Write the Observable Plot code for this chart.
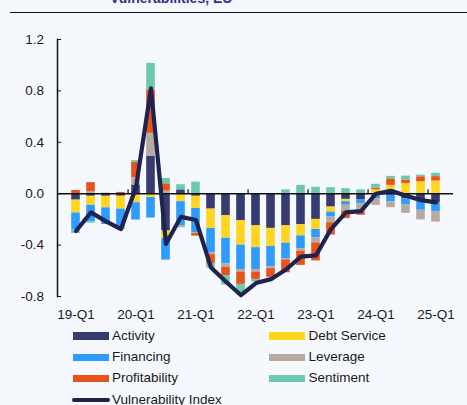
<!DOCTYPE html>
<html><head><meta charset="utf-8">
<script src="https://cdn.jsdelivr.net/npm/d3@7"></script>
<script src="https://cdn.jsdelivr.net/npm/@observablehq/plot@0.6"></script>
<style>
html,body{margin:0;padding:0;background:#F5F9FD;width:467px;height:405px;overflow:hidden;font-family:"Liberation Sans",Arial,sans-serif;}
#wrap{position:relative;width:467px;height:405px;}
#title{position:absolute;left:110px;top:-9px;font-weight:bold;font-size:14px;line-height:14px;color:#2E3192;white-space:nowrap;}
#hr{position:absolute;left:10px;top:11.5px;width:457px;height:1.5px;background:#111;}
#chart{position:absolute;left:0;top:0;}
.sw{position:absolute;width:36px;height:7.5px;}
.lt{position:absolute;font-size:13.5px;line-height:16px;color:#1a1a1a;white-space:nowrap;}
.ln{position:absolute;width:38px;height:4.5px;border-radius:3px;}
</style></head>
<body><div id="wrap">
<div id="title">Vulnerabilities, EU</div>
<div id="hr"></div>
<div id="chart"></div>
<div id="legend"></div>
</div>
<script>
const quarters = ["19-Q1","19-Q2","19-Q3","19-Q4","20-Q1","20-Q2","20-Q3","20-Q4","21-Q1","21-Q2","21-Q3","21-Q4","22-Q1","22-Q2","22-Q3","22-Q4","23-Q1","23-Q2","23-Q3","23-Q4","24-Q1","24-Q2","24-Q3","24-Q4","25-Q1"];
const xTickLabels = ["19-Q1","20-Q1","21-Q1","22-Q1","23-Q1","24-Q1","25-Q1"];
const yTicks = [-0.8,-0.4,0,0.4,0.8,1.2];
const seriesNames = ["Activity","Debt Service","Financing","Leverage","Profitability","Sentiment"];
const seriesColors = ["#363B70","#FFD520","#2F9BFF","#B8A9A1","#E8521B","#6CC9AA"];
const lineName = "Vulnerability Index";
const lineColor = "#1F2350";

const activity     = [-0.05,-0.02,-0.02,-0.02,0.068,0.293,-0.29,0.03,-0.02,-0.12,-0.17,-0.21,-0.25,-0.27,-0.25,-0.24,-0.20,-0.104,-0.044,-0.049,0,0,-0.039,-0.062,-0.07];
const debtService  = [-0.10,-0.07,-0.09,-0.10,-0.07,-0.03,-0.057,-0.062,-0.095,-0.15,-0.177,-0.19,-0.17,-0.14,-0.135,-0.088,-0.078,-0.039,-0.018,0,0.03,0.065,0.08,0.093,0.099];
const financing    = [-0.13,-0.13,-0.13,-0.14,-0.135,-0.16,-0.17,-0.19,-0.19,-0.187,-0.20,-0.19,-0.17,-0.158,-0.12,-0.10,-0.065,-0.039,-0.028,-0.028,-0.039,-0.062,-0.049,-0.067,-0.073];
const leverage     = [-0.005,0.016,0.005,0,0.057,0.177,0.02,-0.013,-0.005,-0.018,-0.026,-0.02,-0.02,-0.015,-0.01,-0.02,-0.04,-0.044,-0.044,-0.065,-0.052,-0.047,-0.065,-0.075,-0.078];
const profitability= [0.025,0.07,0,0.01,0.12,0.337,0.057,0,-0.02,-0.073,-0.065,-0.096,-0.057,-0.068,-0.10,-0.11,-0.14,-0.096,-0.06,-0.026,0.013,0.05,0.026,0.039,0.034];
const sentiment    = [-0.025,-0.01,0,-0.02,0.013,0.207,0.042,0.04,0.09,-0.031,-0.073,-0.065,-0.02,0,0.03,0.065,0.05,0.047,0.039,0.03,0.03,0.02,0.031,0.013,0.026];
const vulnIndex    = [-0.29,-0.145,-0.215,-0.275,0.05,0.82,-0.39,-0.18,-0.205,-0.575,-0.685,-0.79,-0.695,-0.665,-0.59,-0.49,-0.48,-0.275,-0.145,-0.135,0.0,0.023,-0.016,-0.05,-0.068];

const seriesValues = [activity, debtService, financing, leverage, profitability, sentiment];
const rows = [];
seriesNames.forEach((s, si) => quarters.forEach((q, qi) => rows.push({quarter: q, series: s, value: seriesValues[si][qi]})));
const lineRows = quarters.map((q, i) => ({quarter: q, value: vulnIndex[i]}));

const W = 467, H = 325, mt = 39, mb = 29, ml = 57, mr = 14;
const step = (W - ml - mr) / quarters.length;
const pxPerUnit = (H - mt - mb) / 2.0;
const yearTicks = xTickLabels.slice(1);

const chart = Plot.plot({
  width: W, height: H, marginTop: mt, marginBottom: mb, marginLeft: ml, marginRight: mr,
  style: {background: "transparent", fontFamily: "'Liberation Sans', Arial, sans-serif", fontSize: "13.5px", color: "#1a1a1a", overflow: "visible"},
  x: {type: "band", domain: quarters, padding: 0, label: null, axis: null},
  y: {domain: [-0.8, 1.2], label: null, axis: null},
  color: {domain: seriesNames, range: seriesColors},
  marks: [
    Plot.barY(rows, {x: "quarter", y: "value", fill: "series", insetLeft: 3.2, insetRight: 3.2}),
    Plot.ruleY([0], {stroke: "#111", strokeWidth: 1.5}),
    Plot.ruleX(yearTicks, {x: d => d, y1: 0, y2: 4 / pxPerUnit, dx: -step / 2, stroke: "#111", strokeWidth: 1.2}),
    Plot.frame({anchor: "left", stroke: "#111", strokeWidth: 1.5}),
    Plot.axisY({ticks: yTicks, tickSize: -4, tickPadding: 17.5, tickFormat: d => d.toFixed(1), stroke: "#111"}),
    Plot.axisX({ticks: xTickLabels, tickSize: 0, tickPadding: 13}),
    Plot.line(lineRows, {x: "quarter", y: "value", stroke: lineColor, strokeWidth: 4.2, strokeLinejoin: "round", strokeLinecap: "round"})
  ]
});
document.getElementById("chart").appendChild(chart);

// legend
const leg = document.getElementById("legend");
const rowY = [336, 357.5, 378.5, 400];
const colX = [[72.7, 112], [269, 308.5]];
seriesNames.forEach((s, i) => {
  const r = Math.floor(i / 2), c = i % 2;
  const sw = document.createElement("div");
  sw.className = "sw"; sw.style.left = colX[c][0] + "px"; sw.style.top = (rowY[r] - 3.75) + "px";
  sw.style.background = seriesColors[i];
  leg.appendChild(sw);
  const t = document.createElement("div");
  t.className = "lt"; t.textContent = s; t.style.left = colX[c][1] + "px"; t.style.top = (rowY[r] - 8.5) + "px";
  leg.appendChild(t);
});
const ln = document.createElement("div");
ln.className = "ln"; ln.style.left = "71.5px"; ln.style.top = (rowY[3] - 2.25) + "px"; ln.style.background = lineColor;
leg.appendChild(ln);
const lt = document.createElement("div");
lt.className = "lt"; lt.textContent = lineName; lt.style.left = "112px"; lt.style.top = (rowY[3] - 8.5) + "px";
leg.appendChild(lt);
</script>
</body></html>
